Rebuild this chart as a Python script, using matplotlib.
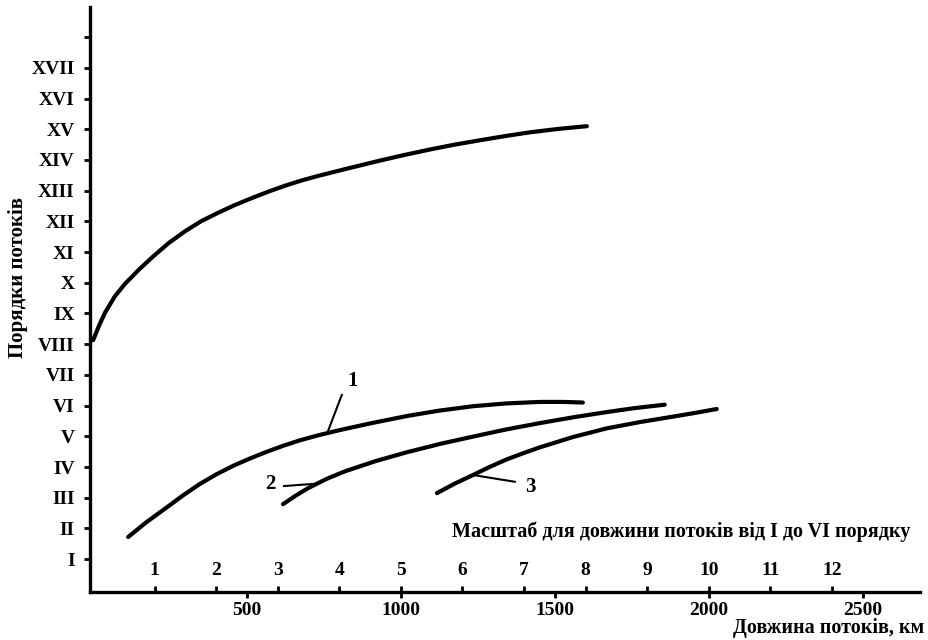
import matplotlib
matplotlib.use("Agg")
import matplotlib.pyplot as plt

plt.rcParams['font.family'] = ['Liberation Serif', 'DejaVu Serif']
plt.rcParams['font.weight'] = 'bold'

# Orders (y) and their labels
order_vals = list(range(1, 19))
order_labels = ["I", "II", "III", "IV", "V", "VI", "VII", "VIII", "IX", "X",
                "XI", "XII", "XIII", "XIV", "XV", "XVI", "XVII", ""]

# Main scale (km)
km_ticks = [500, 1000, 1500, 2000, 2500]
# Secondary scale for orders I-VI
scale_labels = [1, 2, 3, 4, 5, 6, 7, 8, 9, 10, 11, 12]
scale_factor = 200  # km per unit of the secondary scale

# Upper curve (orders VIII - XV)
upper_x = [0, 20, 39, 70, 104, 150, 192, 245, 299, 350, 406, 460, 516, 570, 623, 680,
           731, 818, 932, 1010, 1094, 1175, 1256, 1340, 1419, 1510, 1604]
upper_y = [8.13, 8.62, 9.03, 9.55, 9.97, 10.44, 10.83, 11.29, 11.68, 12.00, 12.28, 12.53,
           12.76, 12.97, 13.16, 13.34, 13.48, 13.70, 13.98, 14.16, 14.34, 14.50, 14.64,
           14.78, 14.90, 15.01, 15.10]

# Curve 1
c1_x = [114, 170, 240, 290, 347, 400, 455, 510, 565, 620, 672, 730, 800, 900, 1019,
        1120, 1234, 1340, 1451, 1530, 1591]
c1_y = [1.72, 2.18, 2.69, 3.06, 3.45, 3.76, 4.04, 4.28, 4.50, 4.70, 4.87, 5.03, 5.20,
        5.42, 5.66, 5.83, 5.98, 6.07, 6.12, 6.12, 6.10]

# Curve 2
c2_x = [617, 660, 700, 760, 818, 920, 1019, 1130, 1234, 1340, 1451, 1560, 1669, 1760, 1857]
c2_y = [2.79, 3.08, 3.32, 3.62, 3.86, 4.20, 4.48, 4.76, 4.99, 5.22, 5.43, 5.62, 5.79, 5.92, 6.03]

# Curve 3
c3_x = [1117, 1175, 1234, 1290, 1344, 1400, 1451, 1560, 1669, 1780, 1883, 1960, 2026]
c3_y = [3.15, 3.46, 3.74, 4.01, 4.25, 4.46, 4.64, 4.98, 5.26, 5.47, 5.64, 5.77, 5.89]

fig = plt.figure(figsize=(9.29, 6.40), dpi=100)
ax = fig.add_axes([0.0969, 0.075, 0.893, 0.914])

lw = 3.0
for xs, ys in [(upper_x, upper_y), (c1_x, c1_y), (c2_x, c2_y), (c3_x, c3_y)]:
    ax.plot(xs, ys, color='black', lw=lw, solid_capstyle='round', solid_joinstyle='round')

ax.set_xlim(-10, 2685)
ax.set_ylim(-0.07, 18.98)

for s in ['top', 'right']:
    ax.spines[s].set_visible(False)
for s in ['left', 'bottom']:
    ax.spines[s].set_linewidth(2.4)

ax.set_yticks(order_vals)
ax.set_yticklabels(order_labels, fontsize=14, fontweight='bold')
ax.tick_params(axis='y', direction='out', length=4, width=2, pad=7)

ax.set_xticks(km_ticks)
ax.set_xticklabels([str(v) for v in km_ticks], fontsize=14, fontweight='bold')
ax.tick_params(axis='x', direction='out', length=4, width=2, pad=3)

sec = ax.secondary_xaxis(0, functions=(lambda x: x / scale_factor, lambda x: x * scale_factor))
sec.set_alignment('top')
sec.set_xticks(scale_labels)
sec.set_xticklabels([str(v) for v in scale_labels], fontsize=14, fontweight='bold')
sec.tick_params(axis='x', direction='out', length=4, width=2, pad=5)
sec.spines['top'].set_visible(False)
sec.spines['bottom'].set_visible(False)

# Curve labels with leader lines
ax.plot([808, 762], [6.35, 5.14], color='black', lw=1.5)
ax.text(843, 6.8, "1", fontsize=15, fontweight='bold', ha='center', va='center')
ax.plot([620, 715], [3.38, 3.45], color='black', lw=1.5)
ax.text(575, 3.45, "2", fontsize=15, fontweight='bold', ha='center', va='center')
ax.plot([1240, 1370], [3.73, 3.52], color='black', lw=1.5)
ax.text(1420, 3.35, "3", fontsize=15, fontweight='bold', ha='center', va='center')

ax.text(1909, 1.88, "Масштаб для довжини потоків від I до VI порядку",
        fontsize=14.5, fontweight='bold', ha='center', va='center')
fig.text(0.995, 0.018, "Довжина потоків, км", fontsize=14.5, fontweight='bold',
         ha='right', va='center')
fig.text(0.019, 0.566, "Порядки потоків", fontsize=15, fontweight='bold',
         ha='center', va='center', rotation=90)

fig.savefig("out.png", dpi=100)
